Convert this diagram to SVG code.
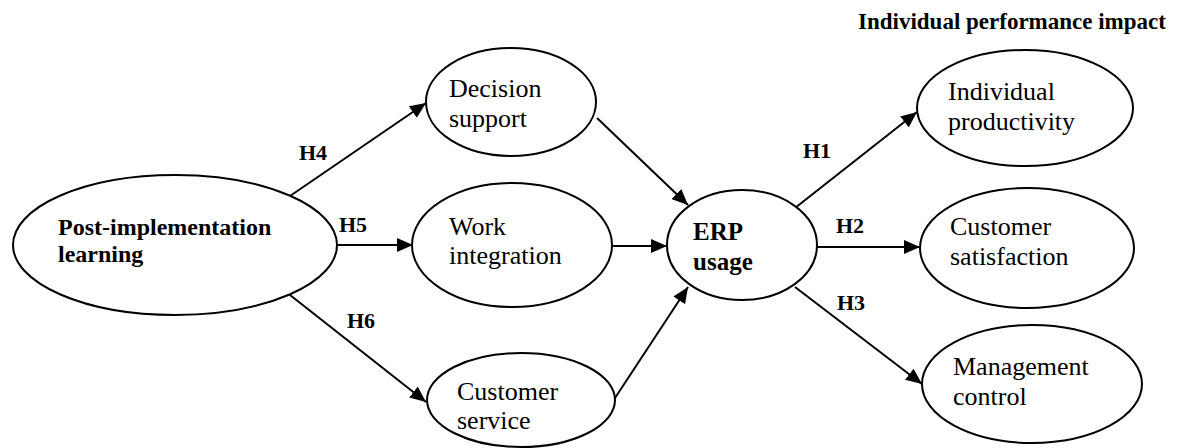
<svg xmlns="http://www.w3.org/2000/svg" width="1187" height="448" viewBox="0 0 1187 448">
  <style>
    .node { fill: #ffffff; stroke: #000000; stroke-width: 2; }
    .t { font-family: "Liberation Serif", "Times New Roman", serif; font-size: 26px; fill: #000000; }
    .b { font-family: "Liberation Serif", "Times New Roman", serif; font-size: 22px; font-weight: bold; fill: #000000; }
    .edge { stroke: #000000; stroke-width: 2; fill: none; marker-end: url(#arrow); }
  </style>
  <defs>
    <marker id="arrow" markerUnits="userSpaceOnUse" markerWidth="18" markerHeight="14" refX="16" refY="7" orient="auto">
      <path d="M0,0 L16,7 L0,14 Z" fill="#000000"/>
    </marker>
  </defs>
  <rect width="1187" height="448" fill="#ffffff"/>

  <text class="b" x="858" y="29" style="font-size:23px">Individual performance impact</text>

  <g id="connectors">
    <line class="edge" x1="290" y1="196" x2="426" y2="103"/>
    <line class="edge" x1="337" y1="245" x2="413" y2="245"/>
    <line class="edge" x1="290" y1="295" x2="426" y2="402"/>
    <line class="edge" x1="597" y1="118" x2="688" y2="205"/>
    <line class="edge" x1="612" y1="246" x2="667" y2="246"/>
    <line class="edge" x1="615" y1="398" x2="688" y2="287"/>
    <line class="edge" x1="795" y1="208" x2="917" y2="112"/>
    <line class="edge" x1="817" y1="247" x2="920" y2="247"/>
    <line class="edge" x1="795" y1="287" x2="922" y2="384"/>
    <text class="b" x="299" y="160">H4</text>
    <text class="b" x="339" y="232">H5</text>
    <text class="b" x="347" y="328">H6</text>
    <text class="b" x="803" y="158">H1</text>
    <text class="b" x="836" y="233">H2</text>
    <text class="b" x="837" y="310">H3</text>
  </g>

  <g id="post-implementation-learning">
    <ellipse class="node" cx="175" cy="245" rx="162" ry="70"/>
    <text class="b" x="58" y="235" style="font-size:24px">Post-implementation</text>
    <text class="b" x="58" y="262" style="font-size:24px">learning</text>
  </g>

  <g id="decision-support">
    <ellipse class="node" cx="511" cy="102" rx="85" ry="54"/>
    <text class="t" x="449" y="97">Decision</text>
    <text class="t" x="449" y="127">support</text>
  </g>

  <g id="work-integration">
    <ellipse class="node" cx="512" cy="245" rx="100" ry="62"/>
    <text class="t" x="449" y="235">Work</text>
    <text class="t" x="449" y="264">integration</text>
  </g>

  <g id="customer-service">
    <ellipse class="node" cx="521" cy="400" rx="94" ry="47"/>
    <text class="t" x="457" y="400">Customer</text>
    <text class="t" x="457" y="429">service</text>
  </g>

  <g id="erp-usage">
    <ellipse class="node" cx="742" cy="245" rx="75" ry="55"/>
    <text class="b" x="693" y="240" style="font-size:25px">ERP</text>
    <text class="b" x="693" y="270" style="font-size:25px">usage</text>
  </g>

  <g id="individual-productivity">
    <ellipse class="node" cx="1025" cy="108" rx="108" ry="58"/>
    <text class="t" x="948" y="100">Individual</text>
    <text class="t" x="948" y="130">productivity</text>
  </g>

  <g id="customer-satisfaction">
    <ellipse class="node" cx="1027" cy="248" rx="107" ry="60"/>
    <text class="t" x="950" y="235">Customer</text>
    <text class="t" x="950" y="265">satisfaction</text>
  </g>

  <g id="management-control">
    <ellipse class="node" cx="1032" cy="384" rx="110" ry="59"/>
    <text class="t" x="953" y="375">Management</text>
    <text class="t" x="953" y="405">control</text>
  </g>
</svg>
